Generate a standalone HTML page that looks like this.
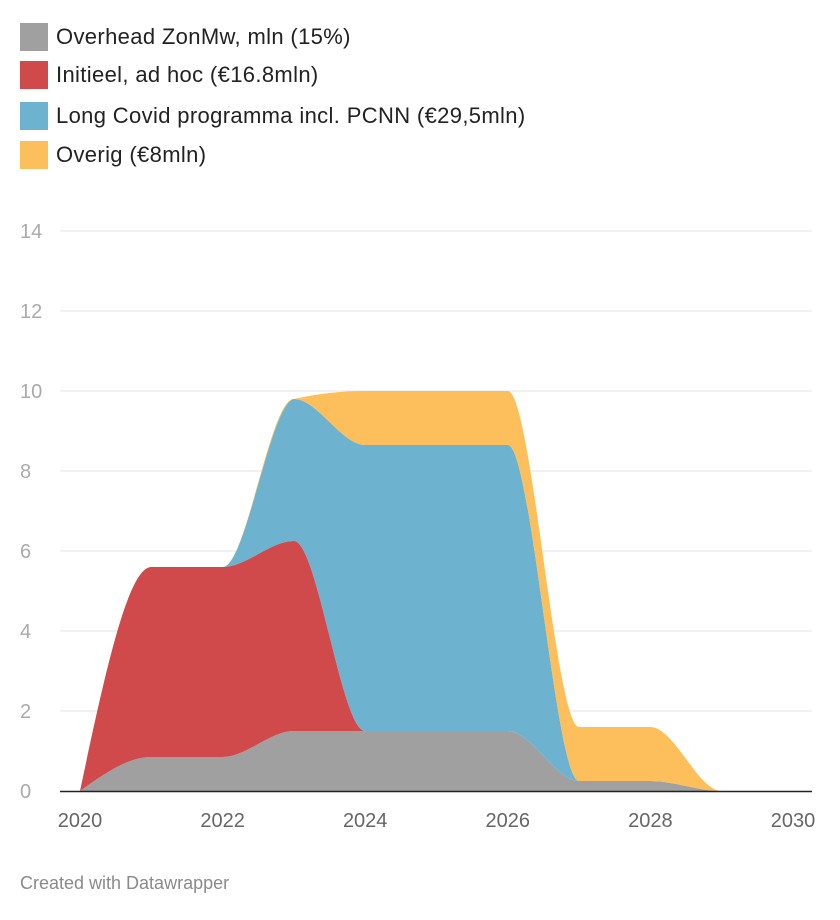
<!DOCTYPE html>
<html><head><meta charset="utf-8"><style>
body{margin:0;background:#fff;font-family:"Liberation Sans",sans-serif;}
#wrap{position:relative;width:840px;height:920px;}
.leg{position:absolute;left:20px;display:flex;align-items:center;font-size:22px;letter-spacing:0.35px;color:#222;}
.sw{width:28px;height:28px;margin-right:8px;}
#foot{position:absolute;left:20px;top:873px;font-size:18px;color:#8a8a8a;}
</style></head><body>
<div id="wrap">
<div class="leg" style="top:23px"><div class="sw" style="background:#a0a0a0"></div>Overhead ZonMw, mln (15%)</div>
<div class="leg" style="top:61px"><div class="sw" style="background:#d04a4c"></div>Initieel, ad hoc (€16.8mln)</div>
<div class="leg" style="top:102px"><div class="sw" style="background:#6db3d0"></div>Long Covid programma incl. PCNN (€29,5mln)</div>
<div class="leg" style="top:141px"><div class="sw" style="background:#fdbf5c"></div>Overig (€8mln)</div>
<svg id="chart" width="840" height="920" style="position:absolute;left:0;top:0"></svg>
<div id="foot">Created with Datawrapper</div>
</div>
<script>
const years=[2020,2021,2022,2023,2024,2025,2026,2027,2028,2029,2030];
const overhead=[0,0.85,0.85,1.5,1.5,1.5,1.5,0.25,0.25,0,0];
const initieel=[0,4.75,4.75,4.75,0,0,0,0,0,0,0];
const longCovid=[0,0,0,3.55,7.15,7.15,7.15,0,0,0,0];
const overig=[0,0,0,0,1.35,1.35,1.35,1.35,1.35,0,0];
const yTicks=[0,2,4,6,8,10,12,14];
const xTicks=[2020,2022,2024,2026,2028,2030];
const NS="http://www.w3.org/2000/svg";
const svg=document.getElementById('chart');
function X(v){return 80+(v-2020)*71.3;}
function Y(v){return 791-v*40;}
function mk(t,a){const e=document.createElementNS(NS,t);for(const k in a)e.setAttribute(k,a[k]);svg.appendChild(e);return e;}
yTicks.forEach(t=>{
 if(t>0){const g=mk('line',{x1:60,x2:812,y1:Y(t),y2:Y(t),stroke:'#e3e3e3','stroke-width':1});
 
 }
 const l=mk('text',{x:20,y:Y(t)+7,'font-size':20,fill:'#aaa','font-family':'Liberation Sans, sans-serif'});
 l.textContent=t;
 
 
});
function tangents(xs,ys){
 const n=xs.length,h=[],s=[],t=[];
 for(let i=0;i<n-1;i++){h.push(xs[i+1]-xs[i]);s.push((ys[i+1]-ys[i])/h[i]);}
 for(let i=1;i<n-1;i++){const s0=s[i-1],s1=s[i],p=(s0*h[i]+s1*h[i-1])/(h[i-1]+h[i]);
  t[i]=(Math.sign(s0)+Math.sign(s1))*Math.min(Math.abs(s0),Math.abs(s1),0.5*Math.abs(p))||0;}
 t[0]=(3*s[0]-t[1])/2; t[n-1]=(3*s[n-2]-t[n-2])/2;
 if(n==2){t[0]=t[1]=s[0];}
 return t;
}
function seg(xs,ys,rev){
 const t=tangents(xs,ys),n=xs.length;let d='';
 const idx=[...Array(n-1).keys()];
 if(!rev){idx.forEach(i=>{const h=xs[i+1]-xs[i];
  d+=` C${xs[i]+h/3},${ys[i]+h/3*t[i]} ${xs[i+1]-h/3},${ys[i+1]-h/3*t[i+1]} ${xs[i+1]},${ys[i+1]}`;});}
 else{idx.reverse().forEach(i=>{const h=xs[i+1]-xs[i];
  d+=` C${xs[i+1]-h/3},${ys[i+1]-h/3*t[i+1]} ${xs[i]+h/3},${ys[i]+h/3*t[i]} ${xs[i]},${ys[i]}`;});}
 return d;
}
const series=[[overhead,'#a0a0a0','area-overhead'],[initieel,'#d04a4c','area-initieel'],[longCovid,'#6db3d0','area-long-covid'],[overig,'#fdbf5c','area-overig']];
let base=years.map(()=>0);
const xs=years.map(X);
series.forEach(([vals,col,name])=>{
 const top=base.map((b,i)=>b+vals[i]);
 const ty=top.map(Y),by=base.map(Y);
 const d=`M${xs[0]},${ty[0]}`+seg(xs,ty,false)+` L${xs[xs.length-1]},${by[by.length-1]}`+seg(xs,by,true)+'Z';
 const p=mk('path',{d:d,fill:col});
 
 
 base=top;
});
const ax=mk('line',{x1:60,x2:812,y1:791.5,y2:791.5,stroke:'#222','stroke-width':1.5});


xTicks.forEach(t=>{
 const l=mk('text',{x:X(t),y:827,'font-size':20,fill:'#666','text-anchor':'middle','font-family':'Liberation Sans, sans-serif'});
 l.textContent=t;
 
 
});
</script>
</body></html>
